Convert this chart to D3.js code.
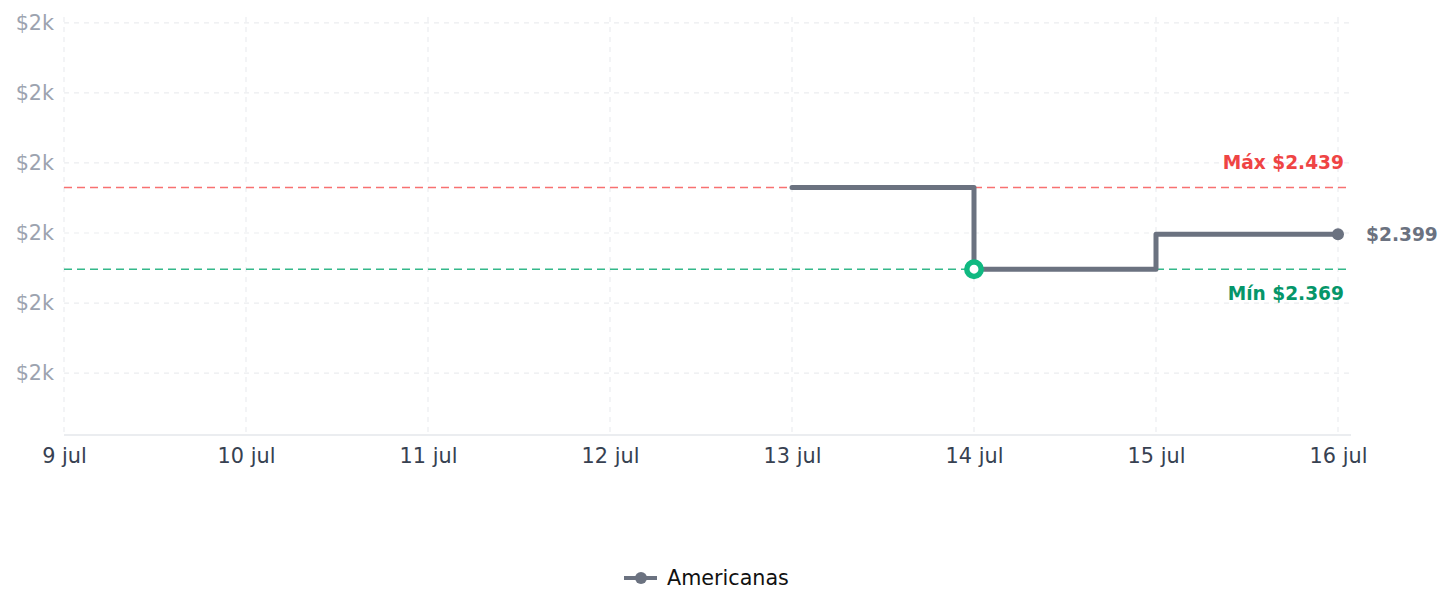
<!DOCTYPE html>
<html><head><meta charset="utf-8">
<script src="https://cdn.jsdelivr.net/npm/d3@7"></script>
<style>body{margin:0;background:#fff;font-family:"DejaVu Sans",sans-serif}</style>
</head><body><svg id="c" width="1452" height="613"></svg>
<script>
const dates = ["2024-07-13","2024-07-14","2024-07-15","2024-07-16"];
const prices = [2439, 2369, 2399, 2399];
const xTickDates = ["2024-07-09","2024-07-10","2024-07-11","2024-07-12","2024-07-13","2024-07-14","2024-07-15","2024-07-16"];
const xTickLabels = ["9 jul","10 jul","11 jul","12 jul","13 jul","14 jul","15 jul","16 jul"];
const yTicks = [2280, 2340, 2400, 2460, 2520, 2580];
const yTickLabels = ["$2k","$2k","$2k","$2k","$2k","$2k"];
const seriesName = "Americanas";
const maxPrice = 2439, minPrice = 2369, lastPrice = 2399;

const parse = d3.utcParse("%Y-%m-%d");
const svg = d3.select("#c");
const L = 64, R = 1351, T = 17, B = 435;
const x = d3.scaleUtc().domain([parse(xTickDates[0]), parse(xTickDates[7])]).range([64, 1338]);
const y = d3.scaleLinear().domain([2227, 2585]).range([B, T]);

// grid
svg.append("g").selectAll("line").data(yTicks).join("line")
  .attr("x1", L).attr("x2", R).attr("y1", d=>y(d)).attr("y2", d=>y(d))
  .attr("stroke", "#ebedf0").attr("stroke-width", 1.2).attr("stroke-dasharray", "5,5");
svg.append("g").selectAll("line").data(xTickDates).join("line")
  .attr("x1", d=>x(parse(d))).attr("x2", d=>x(parse(d))).attr("y1", T).attr("y2", B)
  .attr("stroke", "#ebedf0").attr("stroke-width", 1.2).attr("stroke-dasharray", "5,5");

// x axis
const xa = svg.append("g").attr("transform", `translate(0,${B})`)
  .call(d3.axisBottom(x).tickValues(xTickDates.map(parse)).tickSize(0).tickPadding(13)
    .tickFormat((d,i)=>xTickLabels[i]));
xa.select(".domain").attr("d", `M${L},0H${R}`).attr("stroke", "#e5e7eb").attr("stroke-width", 1.5);
xa.selectAll("text").attr("font-size", 20.8).attr("fill", "#374151").attr("font-family", "DejaVu Sans");

// y axis
const ya = svg.append("g").attr("transform", `translate(${L},0)`)
  .call(d3.axisLeft(y).tickValues(yTicks).tickSize(0).tickPadding(10).tickFormat((d,i)=>yTickLabels[i]));
ya.select(".domain").remove();
ya.selectAll("text").attr("font-size", 20.7).attr("fill", "#9ca3af").attr("font-family", "DejaVu Sans");

// max/min lines
svg.append("line").attr("x1", L).attr("x2", R).attr("y1", y(maxPrice)).attr("y2", y(maxPrice))
  .attr("stroke", "#f87171").attr("stroke-width", 1.5).attr("stroke-dasharray", "8,5");
svg.append("line").attr("x1", L).attr("x2", R).attr("y1", y(minPrice)).attr("y2", y(minPrice))
  .attr("stroke", "#34b88a").attr("stroke-width", 1.5).attr("stroke-dasharray", "8,5");
svg.append("text").attr("x", 1344).attr("y", y(maxPrice) - 18).attr("text-anchor", "end")
  .attr("font-size", 18.6).attr("font-weight", "bold").attr("fill", "#ef4444").text("Máx $2.439");
svg.append("text").attr("x", 1344).attr("y", y(minPrice) + 31).attr("text-anchor", "end")
  .attr("font-size", 18.6).attr("font-weight", "bold").attr("fill", "#059669").text("Mín $2.369");

// line
const data = dates.map((d,i)=>({d: parse(d), v: prices[i]}));
svg.append("path").datum(data)
  .attr("d", d3.line().x(d=>x(d.d)).y(d=>y(d.v)).curve(d3.curveStepAfter))
  .attr("fill", "none").attr("stroke", "#6b7280").attr("stroke-width", 5).attr("stroke-linejoin", "round").attr("stroke-linecap", "round");

const last = data[data.length-1];
svg.append("circle").attr("cx", x(last.d)).attr("cy", y(last.v)).attr("r", 6).attr("fill", "#6b7280");
svg.append("text").attr("x", x(last.d) + 28).attr("y", y(last.v)).attr("dy", "0.35em")
  .attr("font-size", 18.6).attr("font-weight", "bold").attr("fill", "#6b7280").text("$2.399");

const minPt = data.find(d=>d.v === minPrice);
svg.append("circle").attr("cx", x(minPt.d)).attr("cy", y(minPt.v)).attr("r", 7.2)
  .attr("fill", "#fff").attr("stroke", "#10b981").attr("stroke-width", 5.5);

// legend
const lg = svg.append("g").attr("transform", "translate(624,578)");
lg.append("line").attr("x1", 0).attr("x2", 33).attr("stroke", "#6b7280").attr("stroke-width", 4);
lg.append("circle").attr("cx", 17).attr("r", 6).attr("fill", "#6b7280");
lg.append("text").attr("x", 43).attr("dy", "0.35em").attr("font-size", 20.7).attr("fill", "#111").text(seriesName);
</script></body></html>
